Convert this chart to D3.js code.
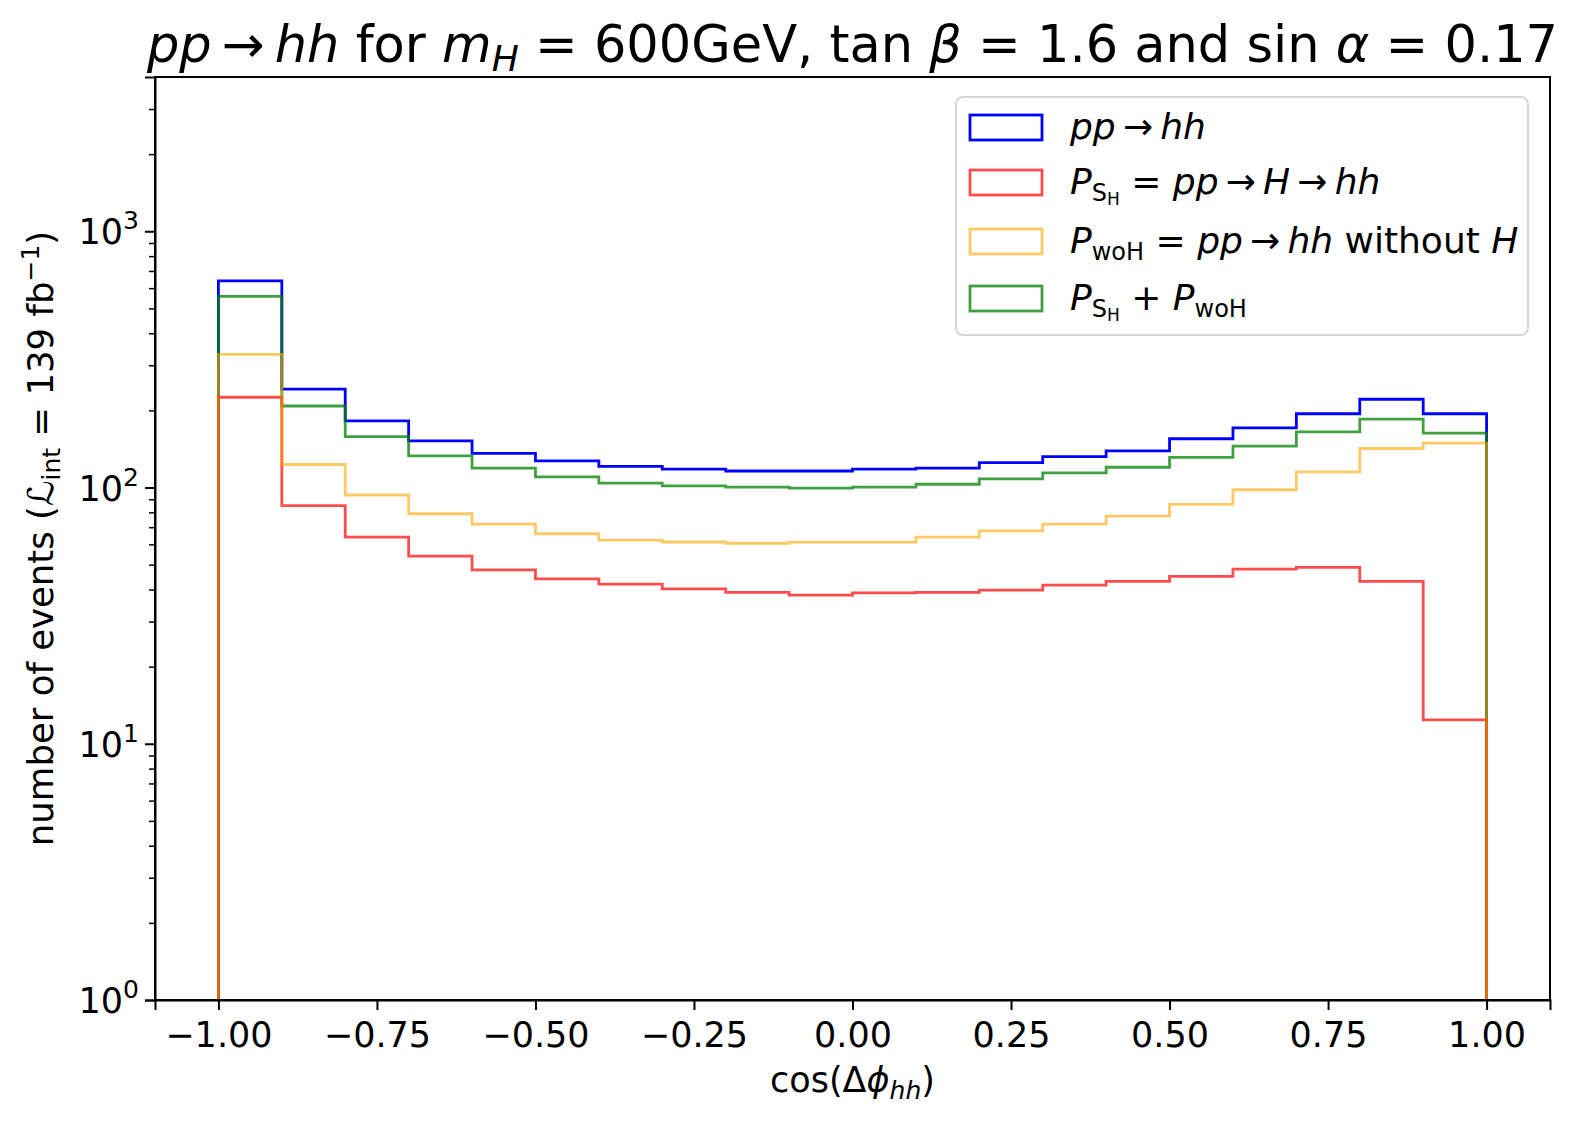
<!DOCTYPE html>
<html>
<head>
<meta charset="utf-8">
<script src="https://cdn.jsdelivr.net/npm/d3@7"></script>
<style>
  body { margin: 0; background: #fff; }
  svg { font-family: "DejaVu Sans", sans-serif; }
</style>
</head>
<body>
<svg width="1572" height="1124"></svg>
<script>
// bin edges of cos(dphi_hh), 20 bins of 0.1
var binEdges = [-1.0, -0.9, -0.8, -0.7, -0.6, -0.5, -0.4, -0.3, -0.2, -0.1, 0.0,
                0.1, 0.2, 0.3, 0.4, 0.5, 0.6, 0.7, 0.8, 0.9, 1.0];

var ppToHH   = [640, 242, 182, 152, 136, 127, 121, 118, 116, 116, 118, 119, 125, 132, 139, 155, 171, 194, 221, 194];
var pSH      = [225, 85, 64, 54, 47.7, 44, 42, 40.2, 39, 38, 38.8, 39, 39.8, 41.6, 43, 45, 48, 48.8, 43, 12.4];
var pWoH     = [331, 123, 93.5, 79, 72, 66, 62.3, 61.3, 60.6, 61.2, 61.2, 64, 67.7, 72, 77.3, 86, 98, 115, 142, 149];
var pSum     = [557, 208, 158, 133, 119, 110, 104, 101.5, 100.4, 99.5, 100.4, 103, 108, 114, 120, 131, 145, 165, 185, 163];

var xTicks = [-1.0, -0.75, -0.5, -0.25, 0.0, 0.25, 0.5, 0.75, 1.0];
var yTicks = [1, 10, 100, 1000];

var sAll = {vals: ppToHH, color: "blue", alpha: 1};
var sSH  = {vals: pSH, color: "red", alpha: 0.7};
var sWoH = {vals: pWoH, color: "orange", alpha: 0.6};
var sSum = {vals: pSum, color: "green", alpha: 0.75};

var svg = d3.select("svg");
var padL = 155, padR = 1550, padT = 77, padB = 1000;

var xScale = d3.scaleLinear().domain([-1.1, 1.1]).range([padL, padR]);
var yScale = d3.scaleLog().domain([1, 4000]).range([padB, padT]);

// histogram steps (drawing order as in the original: blue, green, red, orange)
var line = d3.line()
    .x(function(d){ return xScale(d[0]); })
    .y(function(d){ return yScale(d[1]); });

[sAll, sSum, sSH, sWoH].forEach(function(s) {
    var pts = [[binEdges[0], 1]];
    s.vals.forEach(function(v, i) {
        pts.push([binEdges[i], v]);
        pts.push([binEdges[i+1], v]);
    });
    pts.push([binEdges[binEdges.length-1], 1]);
    svg.append("path")
        .attr("d", line(pts))
        .attr("fill", "none")
        .attr("stroke", s.color)
        .attr("stroke-opacity", s.alpha)
        .attr("stroke-width", 2.8)
        .attr("stroke-linejoin", "miter");
});

// axes
var xAxis = d3.axisBottom(xScale).tickValues(xTicks).tickSize(10).tickPadding(12)
    .tickFormat(function(d){ return d3.format(".2f")(d).replace("-", "\u2212"); });
var gx = svg.append("g").attr("transform", "translate(0," + padB + ")").call(xAxis);
gx.selectAll("text").attr("font-size", 35).attr("fill", "#000").attr("font-family", "DejaVu Sans");

var minor = [];
[1, 10, 100, 1000].forEach(function(p){
    for (var k = 2; k <= 9; k++) { if (p * k < 4000) minor.push(p * k); }
});
var gyMinor = svg.append("g").attr("transform", "translate(" + padL + ",0)")
    .call(d3.axisLeft(yScale).tickValues(minor).tickSize(6).tickFormat(""));
gyMinor.select(".domain").remove();

var gy = svg.append("g").attr("transform", "translate(" + padL + ",0)")
    .call(d3.axisLeft(yScale).tickValues(yTicks).tickSize(10).tickFormat(""));

gx.selectAll("line").attr("stroke-width", 2);
gy.selectAll("line").attr("stroke-width", 2);
gyMinor.selectAll("line").attr("stroke-width", 1.5);

// y tick labels 10^k
yTicks.forEach(function(t) {
    var tx = svg.append("text")
        .attr("x", padL - 16)
        .attr("y", yScale(t) + 13)
        .attr("text-anchor", "end")
        .attr("font-size", 35);
    tx.append("tspan").text("10");
    tx.append("tspan").attr("dy", -15).attr("font-size", 25).text(Math.round(Math.log10(t)));
});

// frame
svg.append("rect")
    .attr("x", padL).attr("y", padT)
    .attr("width", padR - padL).attr("height", padB - padT)
    .attr("fill", "none").attr("stroke", "#000").attr("stroke-width", 2);
svg.selectAll(".domain").attr("stroke-width", 2);

// title
var title = svg.append("text")
    .attr("x", (padL + padR) / 2)
    .attr("y", 62)
    .attr("text-anchor", "middle")
    .attr("font-size", 51);
title.append("tspan").attr("font-style", "italic").text("pp");
title.append("tspan").text("\u2009\u2192\u2009");
title.append("tspan").attr("font-style", "italic").text("hh");
title.append("tspan").text(" for ");
title.append("tspan").attr("font-style", "italic").text("m");
title.append("tspan").attr("font-style", "italic").attr("font-size", 36).attr("dy", 9).text("H");
title.append("tspan").attr("dy", -9).text(" = 600GeV, tan ");
title.append("tspan").attr("font-style", "italic").text("\u03b2");
title.append("tspan").text(" = 1.6 and sin ");
title.append("tspan").attr("font-style", "italic").text("\u03b1");
title.append("tspan").text(" = 0.17");

// x label
var xl = svg.append("text")
    .attr("x", (padL + padR) / 2)
    .attr("y", 1092)
    .attr("text-anchor", "middle")
    .attr("font-size", 35);
xl.append("tspan").text("cos(\u0394");
xl.append("tspan").attr("font-style", "italic").text("\u03d5");
xl.append("tspan").attr("font-style", "italic").attr("font-size", 25).attr("dy", 7).text("hh");
xl.append("tspan").attr("dy", -7).text(")");

// y label
var yl = svg.append("text")
    .attr("transform", "translate(53," + ((padT + padB) / 2) + ") rotate(-90)")
    .attr("text-anchor", "middle")
    .attr("font-size", 35.5);
yl.append("tspan").text("number of events (");
yl.append("tspan").attr("font-style", "italic").text("\u2112");
yl.append("tspan").attr("font-size", 25).attr("dy", 7).text("int");
yl.append("tspan").attr("dy", -7).text(" = 139 fb");
yl.append("tspan").attr("font-size", 25).attr("dy", -14).text("\u22121");
yl.append("tspan").attr("dy", 14).text(")");

// legend
var legend = svg.append("g");
legend.append("rect")
    .attr("x", 956).attr("y", 97).attr("width", 572).attr("height", 238)
    .attr("rx", 7).attr("fill", "#fff").attr("fill-opacity", 0.8)
    .attr("stroke", "#d6d6d6").attr("stroke-width", 2);

var legendRows = [
    {y: 127, s: sAll},
    {y: 182, s: sSH},
    {y: 241, s: sWoH},
    {y: 298, s: sSum}
];
legendRows.forEach(function(r) {
    legend.append("rect")
        .attr("x", 970).attr("y", r.y - 12).attr("width", 72).attr("height", 25)
        .attr("fill", "none").attr("stroke", r.s.color)
        .attr("stroke-opacity", r.s.alpha).attr("stroke-width", 2.8);
});

function legText(y) {
    return legend.append("text").attr("x", 1070).attr("y", y + 12).attr("font-size", 36);
}
var t1 = legText(127);
t1.append("tspan").attr("font-style", "italic").text("pp");
t1.append("tspan").text("\u2009\u2192\u2009");
t1.append("tspan").attr("font-style", "italic").text("hh");

var t2 = legText(182);
t2.append("tspan").attr("font-style", "italic").text("P");
t2.append("tspan").attr("font-size", 24).attr("dy", 7).text("S");
t2.append("tspan").attr("font-size", 17).attr("dy", 4).text("H");
t2.append("tspan").attr("dy", -11).text(" = ");
t2.append("tspan").attr("font-style", "italic").text("pp");
t2.append("tspan").text("\u2009\u2192\u2009");
t2.append("tspan").attr("font-style", "italic").text("H");
t2.append("tspan").text("\u2009\u2192\u2009");
t2.append("tspan").attr("font-style", "italic").text("hh");

var t3 = legText(241);
t3.append("tspan").attr("font-style", "italic").text("P");
t3.append("tspan").attr("font-size", 24).attr("dy", 7).text("woH");
t3.append("tspan").attr("dy", -7).text(" = ");
t3.append("tspan").attr("font-style", "italic").text("pp");
t3.append("tspan").text("\u2009\u2192\u2009");
t3.append("tspan").attr("font-style", "italic").text("hh");
t3.append("tspan").text(" without ");
t3.append("tspan").attr("font-style", "italic").text("H");

var t4 = legText(298);
t4.append("tspan").attr("font-style", "italic").text("P");
t4.append("tspan").attr("font-size", 24).attr("dy", 7).text("S");
t4.append("tspan").attr("font-size", 17).attr("dy", 4).text("H");
t4.append("tspan").attr("dy", -11).text(" + ");
t4.append("tspan").attr("font-style", "italic").text("P");
t4.append("tspan").attr("font-size", 24).attr("dy", 7).text("woH");
</script>
</body>
</html>
